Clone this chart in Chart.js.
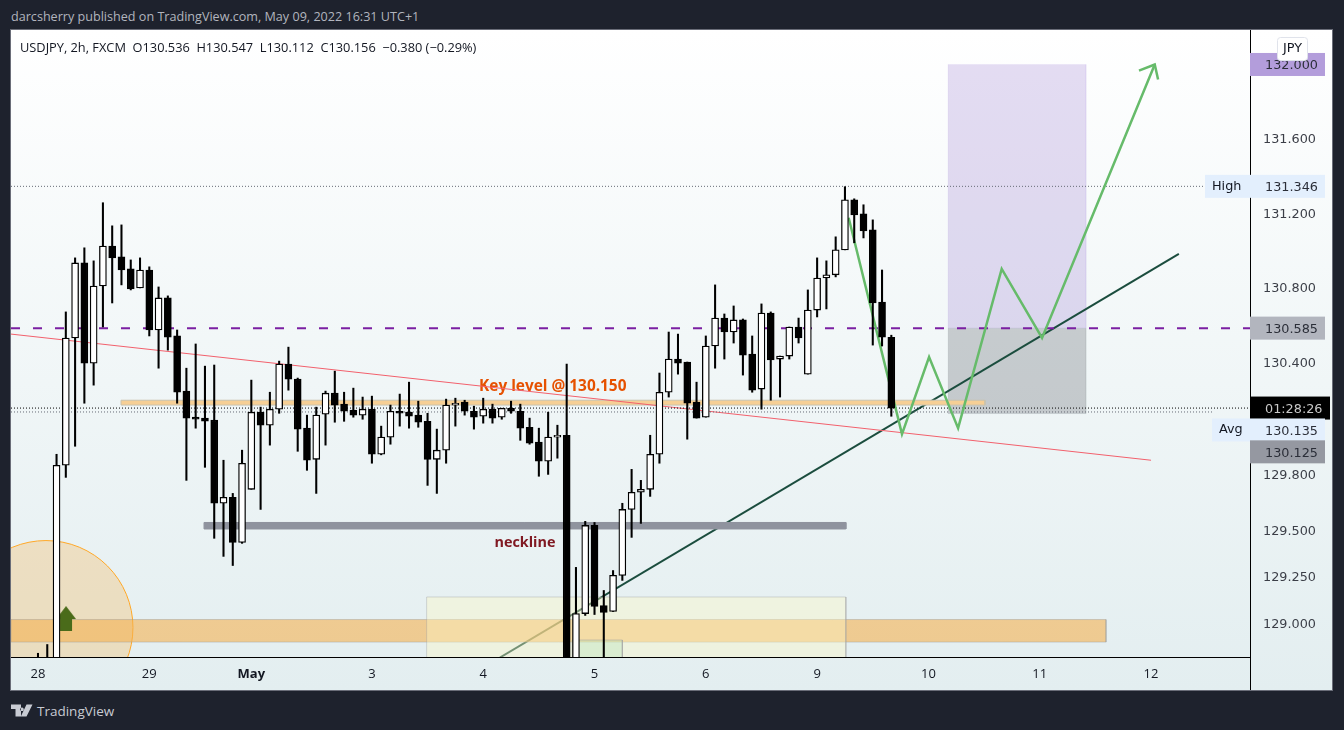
<!DOCTYPE html>
<html>
<head>
<meta charset="utf-8">
<title>USDJPY 2h</title>
<script src="https://cdn.jsdelivr.net/npm/chart.js@4"></script>
<style>
  html, body { margin: 0; padding: 0; background: #1e222d; width: 1344px; height: 730px; overflow: hidden; }
  #publisher { position: absolute; left: 11px; top: 8px; color: #b2b5be; font: 12.6px "Open Sans", sans-serif; white-space: nowrap; }
  #panel { position: absolute; left: 11px; top: 30px; width: 1321px; height: 660px; background: linear-gradient(#ffffff, #e3eef0); box-shadow: 0 0 0 1px #6a6d78; }
  #panel canvas { position: absolute; left: 0; top: 0; }
  #legend { position: absolute; left: 9px; top: 8px; color: #131722; font: 12.8px "Open Sans", sans-serif; white-space: pre; }
  #brand { position: absolute; left: 37px; top: 702px; color: #c8cbd3; font: 13.5px "Open Sans", sans-serif; }
  #logo { position: absolute; left: 11px; top: 704px; }
</style>
</head>
<body>
<div id="publisher">darcsherry published on TradingView.com, May 09, 2022 16:31 UTC+1</div>
<div id="panel">
  <canvas id="chart" width="1321" height="660"></canvas>
  <div id="legend">USDJPY, 2h, FXCM  O130.536  H130.547  L130.112  C130.156  −0.380 (−0.29%)</div>
</div>
<svg id="logo" width="22" height="13" viewBox="0 0 22 13"><path fill="#c8cbd3" d="M0 .5h10v12H4.500V5H0zM11 3.500a1.800 1.800 0 1 0 .01 0zM15.500.5H21.500L15.500 12.500H9.800z"/></svg>
<div id="brand">TradingView</div>

<script>
// x values are bar numbers, bar 0 is the first visible 2h bar on the 28th
const opens = [128.79,128.76,128.78,129.849,130.532,130.935,130.397,130.811,131.026,130.967,130.903,130.801,130.897,130.575,130.747,130.543,130.247,130.107,130.102,130.091,129.645,129.677,129.435,129.720,130.134,130.064,130.150,130.392,130.311,130.048,129.881,130.123,130.236,130.177,130.145,130.118,130.150,129.908,130.000,130.139,130.134,130.118,130.085,129.881,129.930,130.172,130.188,130.139,130.112,130.150,130.107,130.155,130.139,130.053,129.973,129.871,130.000,130.010,128.78,129.053,129.526,129.096,129.064,129.258,129.612,129.704,129.720,129.908,130.241,130.419,130.403,130.188,130.107,130.489,130.639,130.564,130.629,130.446,130.258,130.666,130.419,130.435,130.591,130.338,130.682,130.854,130.871,131.005,131.274,131.198,131.112,130.725,130.536];
const highs = [128.840,128.887,129.908,130.672,130.962,131.016,130.946,131.258,131.134,131.139,130.951,130.962,130.914,130.806,130.758,130.575,130.370,130.500,130.381,130.387,129.876,129.698,129.930,130.306,130.161,130.241,130.408,130.483,130.317,130.118,130.161,130.247,130.354,130.241,130.263,130.215,130.220,130.059,130.172,130.231,130.295,130.193,130.128,130.043,130.204,130.209,130.198,130.166,130.209,130.177,130.155,130.193,130.177,130.102,130.048,130.134,130.064,130.392,129.301,129.548,129.542,129.177,129.284,129.645,129.827,129.768,130.010,130.344,130.564,130.553,130.403,130.295,130.543,130.817,130.661,130.704,130.634,130.543,130.715,130.672,130.435,130.591,130.639,130.790,130.962,130.946,131.075,131.344,131.279,131.247,131.166,130.897,130.547];
const lows = [128.70,128.70,128.74,129.784,129.951,130.182,130.279,130.591,130.720,130.817,130.790,130.801,130.543,130.370,130.467,130.182,129.768,130.048,129.838,129.457,129.360,129.311,129.430,129.720,129.612,129.957,130.128,130.252,129.924,129.822,129.698,129.957,130.080,130.085,130.107,130.096,129.860,129.905,129.962,130.059,130.048,130.053,129.741,129.698,129.860,130.059,130.118,130.043,130.075,130.075,130.096,130.128,129.983,129.962,129.790,129.800,129.887,128.74,128.74,129.043,129.048,128.76,129.064,129.231,129.462,129.537,129.682,129.860,130.215,130.338,129.989,130.102,130.107,130.370,130.419,130.505,130.333,130.241,130.150,130.198,130.215,130.419,130.505,130.338,130.645,130.688,130.860,131.005,131.043,131.069,130.494,130.489,130.112];
const closes = [128.75,128.79,129.849,130.532,130.935,130.397,130.811,131.026,130.962,130.897,130.795,130.897,130.575,130.747,130.537,130.241,130.102,130.096,130.085,129.645,129.677,129.435,129.860,130.134,130.064,130.150,130.392,130.311,130.043,129.876,130.118,130.236,130.172,130.139,130.118,130.150,129.908,130.000,130.139,130.128,130.112,130.080,129.881,129.930,130.172,130.182,130.139,130.107,130.150,130.102,130.155,130.139,130.048,129.967,129.871,130.000,130.010,128.78,129.053,129.526,129.091,129.059,129.258,129.612,129.704,129.720,129.908,130.241,130.419,130.397,130.182,130.102,130.489,130.639,130.564,130.629,130.440,130.252,130.666,130.414,130.435,130.591,130.532,130.682,130.854,130.871,131.005,131.274,131.193,131.107,130.720,130.537,130.156];

const xTickValues = [0, 12, 23, 36, 48, 60, 72, 84, 96, 108, 120];
const xTickLabels = ['28', '29', 'May', '3', '4', '5', '6', '9', '10', '11', '12'];
const yTickValues = [131.6, 131.2, 130.8, 130.4, 129.8, 129.5, 129.25, 129];

// drawings, in bar number / price
const lastPrice = 130.156;
const avgPrice = 130.135;
const highPrice = 131.346;
const dashedPrice = 130.585;
const resistanceX = [-2.91, 120];
const resistanceY = [130.553, 129.876];
const trendX = [49.8, 123];
const trendY = [128.817, 130.983];
const pathX = [87.4, 93.15, 96.07, 99.2, 103.9, 108.25, 120.4];
const pathY = [131.177, 130.016, 130.430, 130.048, 130.903, 130.532, 132.0];
const arrowX = [118.7, 120.4, 120.76];
const arrowY = [131.967, 132.0, 131.919];

// x1, x2, top price, bottom price
const keyBand = [8.95, 102.1, 130.198, 130.172];
const necklineBand = [17.9, 87.1, 129.542, 129.507];
const supportBand = [-2.91, 115.15, 129.021, 128.900];
const demandBox = [41.9, 87.1, 129.142, 128.6];
const innerBox = [57.6, 63, 128.911, 128.6];
const targetBox = [98.1, 113, 132.0, 130.585];
const stopBox = [98.1, 113, 130.585, 130.126];
const circleMark = [0.86, 128.978];
const longMark = [3.02, 129.026];

const tagTexts = ['132.000', '131.346', '130.585', '01:28:26', '130.135', '130.125'];
const tagPrices = [132.0, 131.346, 130.585, 130.156, 130.135, 130.125];

const fontName = '"Open Sans", sans-serif';
const priceFont = '"DejaVu Sans", sans-serif';

function lineSet(xs, ys, color, width, order, dash) {
    return {
        type: 'line',
        data: xs.map(function(x, i) { return { x: x, y: ys[i] }; }),
        borderColor: color,
        borderWidth: width,
        borderDash: dash || [],
        pointRadius: 0,
        tension: 0,
        fill: false,
        clip: 0,
        order: order
    };
}

// filled box = one line with a fill plus a closed outline
function boxSets(box, fillColor, edgeColor, order) {
    const fillSet = lineSet([box[0], box[1]], [box[2], box[2]], 'rgba(0,0,0,0)', 0, order);
    fillSet.fill = { target: { value: box[3] } };
    fillSet.backgroundColor = fillColor;
    const edge = lineSet(
        [box[0], box[1], box[1], box[0], box[0]],
        [box[2], box[2], box[3], box[3], box[2]],
        edgeColor, 1, order - 0.01);
    return [fillSet, edge];
}

function arrowIcon() {
    const c = document.createElement('canvas');
    c.width = 20;
    c.height = 25;
    const g = c.getContext('2d');
    g.fillStyle = '#4a6b1a';
    g.beginPath();
    g.moveTo(10, 0); g.lineTo(20, 13); g.lineTo(16, 13); g.lineTo(16, 25);
    g.lineTo(4, 25); g.lineTo(4, 13); g.lineTo(0, 13);
    g.closePath();
    g.fill();
    return c;
}

const bodyColors = closes.map(function(c, i) { return c >= opens[i] ? '#ffffff' : '#000000'; });

const datasets = [
    {
        type: 'bar',
        data: closes.map(function(c, i) { return { x: i, y: [opens[i], c] }; }),
        backgroundColor: bodyColors,
        borderColor: '#000000',
        borderWidth: 1.3,
        borderSkipped: false,
        barThickness: 7,
        grouped: false,
        clip: 0,
        order: 1
    },
    {
        type: 'bar',
        data: highs.map(function(h, i) { return { x: i, y: [lows[i], h] }; }),
        backgroundColor: '#000000',
        borderWidth: 0,
        barThickness: 1.4,
        grouped: false,
        clip: 0,
        order: 2
    },
    {
        type: 'line',
        data: [{ x: longMark[0], y: longMark[1] }],
        pointStyle: arrowIcon(),
        showLine: false,
        clip: 0,
        order: 3
    },
    lineSet(pathX, pathY, '#66bb6a', 2.5, 4),
    lineSet(arrowX, arrowY, '#66bb6a', 2.5, 4),
    lineSet([-2.91, 130.67], [dashedPrice, dashedPrice], '#7b1fa2', 2, 5, [9, 13]),
    lineSet([-2.91, 130.67], [lastPrice, lastPrice], '#000000', 1, 5, [1, 2]),
    lineSet([-2.91, 126.6], [avgPrice, avgPrice], '#666a75', 1, 5, [1, 2]),
    lineSet([-2.91, 125.8], [highPrice, highPrice], '#666a75', 1, 5, [1, 2]),
    lineSet(resistanceX, resistanceY, '#f2606c', 1, 5),
].concat(
    boxSets(keyBand, '#f6cf95', '#c9c2ad', 6),
    boxSets(necklineBand, '#8f939e', '#8f939e', 6),
    boxSets(demandBox, 'rgba(252,247,197,0.4)', 'rgba(160,160,160,0.4)', 6.5),
    boxSets(innerBox, 'rgba(180,225,180,0.35)', 'rgba(160,160,160,0.5)', 6.4),
    boxSets(supportBand, 'rgba(245,175,75,0.58)', 'rgba(150,150,150,0.4)', 7),
    [lineSet(trendX, trendY, '#1b4d3e', 2, 9)],
    boxSets(targetBox, 'rgba(126,87,194,0.2)', 'rgba(126,87,194,0.05)', 10),
    boxSets(stopBox, 'rgba(67,70,81,0.25)', 'rgba(67,70,81,0.05)', 10),
    [{
        type: 'bubble',
        data: [{ x: circleMark[0], y: circleMark[1], r: 87 }],
        backgroundColor: 'rgba(255,152,0,0.2)',
        borderColor: '#ffa726',
        borderWidth: 1,
        clip: 0,
        order: 11
    }]
);

// text on the chart sits under the candles
const chartText = {
    id: 'chartText',
    beforeDatasetsDraw: function(chart) {
        const g = chart.ctx;
        const x = chart.scales.x;
        const y = chart.scales.y;
        g.save();
        g.textAlign = 'center';
        g.textBaseline = 'middle';
        g.font = 'bold 15.4px ' + fontName;
        g.fillStyle = '#e65100';
        g.fillText('Key level @ 130.150', x.getPixelForValue(55.5), y.getPixelForValue(130.27));
        g.font = 'bold 14.4px ' + fontName;
        g.fillStyle = '#801922';
        g.fillText('neckline', x.getPixelForValue(52.5), y.getPixelForValue(129.435));
        g.restore();
    }
};

// price tags in the right gutter
const priceTags = {
    id: 'priceTags',
    afterDraw: function(chart) {
        const g = chart.ctx;
        const y = chart.scales.y;
        const area = chart.chartArea;
        const shift = [0, 0, 0, 0, 18, 38];
        const bg = ['#b39ddb', '#e3effd', '#b2b5be', '#000000', '#e3effd', '#9598a1'];
        const fg = ['#2b2e38', '#2b2e38', '#2b2e38', '#c9c9c9', '#2b2e38', '#2b2e38'];
        const name = ['', 'High', '', '', 'Avg', ''];
        const boxLeft = [1239, 1194, 1239, 1239, 1201, 1239];
        g.save();
        g.strokeStyle = '#000000';
        g.lineWidth = 1;
        g.beginPath();
        g.moveTo(area.right + 0.5, 0);
        g.lineTo(area.right + 0.5, 660);
        g.stroke();
        g.textBaseline = 'middle';
        g.font = '12.8px ' + priceFont;
        tagTexts.forEach(function(text, i) {
            const cy = y.getPixelForValue(tagPrices[i]) + shift[i];
            const w = i === 3 ? 1319 - boxLeft[i] : 1314 - boxLeft[i];
            g.fillStyle = bg[i];
            g.fillRect(boxLeft[i], cy - 11.5, w, 23);
            g.fillStyle = fg[i];
            g.textAlign = 'left';
            g.fillText(text, 1254, cy + 1.5);
            if (name[i]) {
                g.fillStyle = '#131722';
                g.fillText(name[i], boxLeft[i] + 7, cy);
            }
        });
        // currency badge
        g.fillStyle = '#ffffff';
        g.strokeStyle = '#e0e3eb';
        g.beginPath();
        g.roundRect(1266.5, 7.5, 30, 23, 3);
        g.fill();
        g.stroke();
        g.fillStyle = '#131722';
        g.textAlign = 'center';
        g.fillText('JPY', 1281.5, 19);
        g.restore();
    }
};

new Chart(document.getElementById('chart'), {
    type: 'bar',
    data: { datasets: datasets },
    plugins: [chartText, priceTags],
    options: {
        responsive: false,
        animation: false,
        events: [],
        layout: { padding: 0, autoPadding: false },
        plugins: { legend: { display: false }, tooltip: { enabled: false } },
        scales: {
            x: {
                type: 'linear',
                bounds: 'data',
                offset: false,
                min: -2.91,
                max: 130.67,
                grid: { display: false, drawTicks: false },
                border: { color: '#000000', width: 1 },
                afterFit: function(s) { s.height = 33; s.paddingLeft = 0; s.paddingRight = 0; },
                afterBuildTicks: function(s) {
                    s.ticks = xTickValues.map(function(v) { return { value: v }; });
                },
                ticks: {
                    autoSkip: false,
                    maxRotation: 0,
                    padding: 9,
                    color: '#131722',
                    font: function(ctx) {
                        return { family: fontName, size: 13, weight: ctx.tick && ctx.tick.value === 23 ? 'bold' : 'normal' };
                    },
                    callback: function(v) { return xTickLabels[xTickValues.indexOf(v)]; }
                }
            },
            y: {
                position: 'right',
                bounds: 'data',
                min: 128.82,
                max: 132.185,
                grid: { display: false, drawTicks: false },
                border: { display: false },
                afterFit: function(s) { s.width = 82; s.paddingTop = 0; s.paddingBottom = 0; },
                afterBuildTicks: function(s) {
                    s.ticks = yTickValues.map(function(v) { return { value: v }; });
                },
                ticks: {
                    autoSkip: false,
                    padding: 13,
                    labelOffset: 1,
                    color: '#3b3e47',
                    font: { family: priceFont, size: 12.8 },
                    callback: function(v) { return v.toFixed(3); }
                }
            }
        }
    }
});
</script>
</body>
</html>
